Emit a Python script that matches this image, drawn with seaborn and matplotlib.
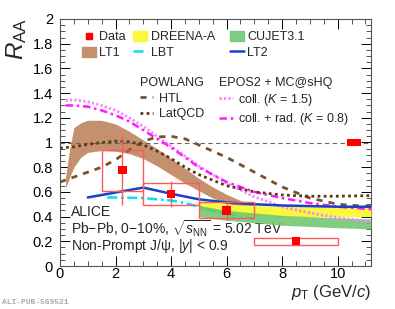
import numpy as np
import matplotlib
matplotlib.use("Agg")
import matplotlib.pyplot as plt
import seaborn as sns
from matplotlib.patches import Rectangle, Patch
from matplotlib.lines import Line2D
from matplotlib.ticker import MultipleLocator, FormatStrFormatter

# -----------------------------
# DATA (ALICE non-prompt J/psi, 0-10%)
# -----------------------------
pt = [2.25, 4.0, 6.0, 8.5]
pt_lo = [1.5, 3.0, 5.0, 7.0]
pt_hi = [3.0, 5.0, 7.0, 10.0]
raa = [0.775, 0.585, 0.45, 0.20]
raa_stat = [0.28, 0.105, 0.08, 0.03]
raa_syst = [0.165, 0.09, 0.065, 0.028]
norm_unc = 0.025

# -----------------------------
# MODELS
# -----------------------------
lt1_x = [0.2, 0.35, 0.5, 0.75, 1.0, 1.5, 2.0, 2.5, 3.0, 3.5, 4.0, 4.5, 5.0, 5.5, 6.0, 6.5, 7.0]
lt1_hi = [0.72, 0.95, 1.12, 1.16, 1.18, 1.18, 1.15, 1.09, 1.02, 0.95, 0.87, 0.79, 0.71, 0.64, 0.58, 0.53, 0.49]
lt1_lo = [0.63, 0.72, 0.80, 0.88, 0.92, 0.935, 0.93, 0.91, 0.87, 0.81, 0.74, 0.67, 0.61, 0.55, 0.51, 0.47, 0.44]

dreena_x = [5.0, 6.0, 7.0, 8.0, 9.0, 10.0, 11.2]
dreena_hi = [0.53, 0.50, 0.49, 0.48, 0.48, 0.48, 0.48]
dreena_lo = [0.45, 0.42, 0.41, 0.40, 0.40, 0.40, 0.40]

cujet_x = [5.0, 6.0, 7.0, 8.0, 9.0, 10.0, 11.2]
cujet_hi = [0.49, 0.45, 0.43, 0.41, 0.40, 0.39, 0.38]
cujet_lo = [0.40, 0.37, 0.35, 0.33, 0.32, 0.31, 0.30]

lt2_x = [1.0, 2.0, 3.0, 4.0, 5.0, 6.0, 7.0, 8.0, 9.0, 10.0, 11.2]
lt2_y = [0.555, 0.595, 0.635, 0.585, 0.54, 0.515, 0.50, 0.49, 0.485, 0.48, 0.48]

lbt_x = [1.7, 2.0, 3.0, 4.0, 4.5, 5.0, 5.5, 6.0, 7.0]
lbt_y = [0.555, 0.555, 0.55, 0.53, 0.51, 0.48, 0.45, 0.42, 0.38]

pow_x = [0, 0.5, 1, 1.5, 2, 2.5, 3, 3.5, 4, 4.5, 5, 6, 7, 8, 9, 10, 11.2]
htl_y = [0.68, 0.72, 0.76, 0.80, 0.86, 0.94, 1.01, 1.045, 1.05, 1.03, 0.98, 0.88, 0.76, 0.64, 0.55, 0.50, 0.48]
latqcd_y = [0.955, 0.965, 0.985, 1.0, 1.01, 1.005, 0.98, 0.93, 0.87, 0.80, 0.74, 0.65, 0.60, 0.575, 0.565, 0.565, 0.57]

epos_x = [0.2, 0.5, 1, 1.5, 2, 2.5, 3, 3.5, 4, 4.5, 5, 6, 7, 8, 9, 10, 11.2]
coll_y = [1.34, 1.345, 1.33, 1.30, 1.26, 1.20, 1.13, 1.05, 0.97, 0.89, 0.81, 0.67, 0.56, 0.48, 0.43, 0.39, 0.36]
collrad_y = [1.30, 1.30, 1.29, 1.26, 1.22, 1.17, 1.10, 1.03, 0.96, 0.88, 0.80, 0.68, 0.60, 0.55, 0.51, 0.48, 0.46]

# -----------------------------
# STYLE
# -----------------------------
sns.set_theme(style="ticks")
plt.rcParams["font.family"] = ["Liberation Sans", "DejaVu Sans"]
plt.rcParams["mathtext.fontset"] = "custom"
plt.rcParams["mathtext.rm"] = "Liberation Sans"
plt.rcParams["mathtext.it"] = "Liberation Sans:italic"
plt.rcParams["mathtext.bf"] = "Liberation Sans:bold"

c_lt1 = "#c4906e"
c_dreena = "#f8f83c"
c_cujet = "#6cc46c"
c_lt2 = "#1a3fcc"
c_lbt = "#00e0f0"
c_htl = "#7a5128"
c_lat = "#5a3812"
c_coll = "#ff80ff"
c_collrad = "#ff1aff"
c_data = "#ff0000"
c_box = "#ff5a5a"

ls_lbt = (0, (4, 1.5, 1, 1.5))
ls_coll = (0, (0.8, 0.8))
ls_collrad = (0, (3, 1.5, 1, 1.5))
ls_htl = (0, (2.2, 2.2))
ls_lat = (0, (1, 1.2))

fig = plt.figure(figsize=(3.95, 3.09), dpi=100)
ax = fig.add_axes([60 / 395, 1 - 266 / 309, 311 / 395, 247 / 309])

# -----------------------------
# BANDS
# -----------------------------
ax.fill_between(lt1_x, lt1_lo, lt1_hi, color=c_lt1, lw=0, zorder=1)
ax.fill_between(dreena_x, dreena_lo, dreena_hi, color=c_dreena, lw=0, zorder=3)
ax.fill_between(cujet_x, cujet_lo, cujet_hi, color=c_cujet, alpha=0.85, lw=0, zorder=4)

ax.axhline(1, color="#666666", ls=(0, (4, 3)), lw=0.8, zorder=1.5)

# -----------------------------
# LINES
# -----------------------------
sns.lineplot(x=lbt_x, y=lbt_y, ax=ax, color=c_lbt, lw=1.8, linestyle=ls_lbt, zorder=3.5)
sns.lineplot(x=epos_x, y=coll_y, ax=ax, color=c_coll, lw=2.0, linestyle=ls_coll, zorder=5)
sns.lineplot(x=epos_x, y=collrad_y, ax=ax, color=c_collrad, lw=1.8, linestyle=ls_collrad, zorder=5)
sns.lineplot(x=pow_x, y=htl_y, ax=ax, color=c_htl, lw=2.0, linestyle=ls_htl, zorder=5)
sns.lineplot(x=pow_x, y=latqcd_y, ax=ax, color=c_lat, lw=2.0, linestyle=ls_lat, zorder=5)
sns.lineplot(x=lt2_x, y=lt2_y, ax=ax, color=c_lt2, lw=1.8, zorder=6)

# -----------------------------
# DATA POINTS
# -----------------------------
for lo, hi, y, s in zip(pt_lo, pt_hi, raa, raa_syst):
    ax.add_patch(Rectangle((lo, y - s), hi - lo, 2 * s, fill=False, ec=c_box, lw=1.0, zorder=8))
ax.errorbar(pt, raa, yerr=raa_stat, fmt="none", ecolor=c_box, elinewidth=1.0, capsize=0, zorder=8)
sns.scatterplot(x=pt, y=raa, ax=ax, marker="s", color=c_data, s=36, edgecolor="none", zorder=10)
ax.add_patch(Rectangle((10.35, 1 - norm_unc), 0.5, 2 * norm_unc, color=c_data, lw=0, zorder=10))

# -----------------------------
# AXES
# -----------------------------
ax.set_xlim(0, 11.2)
ax.set_ylim(0, 2)
ax.xaxis.set_major_locator(MultipleLocator(2))
ax.xaxis.set_minor_locator(MultipleLocator(0.5))
ax.yaxis.set_major_locator(MultipleLocator(0.2))
ax.yaxis.set_minor_locator(MultipleLocator(0.05))
ax.yaxis.set_major_formatter(FormatStrFormatter("%g"))
ax.tick_params(which="both", direction="in", top=True, right=True, color="#555555", width=0.7)
ax.tick_params(which="major", length=7, labelsize=10.5, colors="#000000")
ax.tick_params(which="minor", length=3.5)
ax.tick_params(axis="x", pad=1)
ax.tick_params(axis="y", pad=5)
for s in ax.spines.values():
    s.set_color("#555555")
    s.set_linewidth(0.8)

ax.set_xlabel(r"$p_{\rm T}$ (GeV/$c$)", loc="right", fontsize=12, labelpad=1)
fig.text(17 / 395, 1 - 18 / 309, r"$R_{\rm AA}$", rotation=90, ha="center", va="top", fontsize=17.5)

# -----------------------------
# TEXT
# -----------------------------
ax.text(0.4, 0.405, "ALICE", fontsize=10, va="baseline")
ax.text(0.4, 0.26, r"Pb$-$Pb, 0$-$10%, $\sqrt{s_{\rm NN}}$ = 5.02 TeV", fontsize=10, va="baseline")
ax.text(0.4, 0.13, r"Non-Prompt J/ψ, |$y$| < 0.9", fontsize=10, va="baseline")
fig.text(2 / 395, 1 - 302 / 309, "ALI-PUB-569521", fontsize=5.8, color="#aaaaaa",
         family="Liberation Mono", weight="bold", va="center")

# -----------------------------
# LEGENDS
# -----------------------------
leg_kw = dict(loc="upper left", bbox_transform=fig.transFigure, frameon=False, fontsize=9,
              borderpad=0, borderaxespad=0, handlelength=1.1, handleheight=0.9,
              handletextpad=0.3, labelspacing=0.25)

h_data = Line2D([], [], marker="s", color=c_data, ls="none", markersize=5)
h_lt1 = Patch(color=c_lt1)
h_dreena = Patch(color=c_dreena)
h_lbt = Line2D([], [], color=c_lbt, lw=1.8, ls=ls_lbt)
h_cujet = Patch(color=c_cujet, alpha=0.85)
h_lt2 = Line2D([], [], color=c_lt2, lw=1.8)

col_x = [82, 133, 230]
col_handles = [[h_data, h_lt1], [h_dreena, h_lbt], [h_cujet, h_lt2]]
col_labels = [["Data", "LT1"], ["DREENA-A", "LBT"], ["CUJET3.1", "LT2"]]
for cx, hs, ls in zip(col_x, col_handles, col_labels):
    leg = ax.legend(hs, ls, bbox_to_anchor=(cx / 395, 1 - 31 / 309), **leg_kw)
    ax.add_artist(leg)

h_htl = Line2D([], [], color=c_htl, lw=2.0, ls=ls_htl)
h_lat = Line2D([], [], color=c_lat, lw=2.0, ls=ls_lat)
leg2 = ax.legend([h_htl, h_lat], ["HTL", "LatQCD"], title="POWLANG", alignment="left",
                 title_fontsize=9, **dict(leg_kw, handlelength=1.0, handletextpad=0.5,
                                          bbox_to_anchor=(140 / 395, 1 - 77 / 309)))
ax.add_artist(leg2)

h_coll = Line2D([], [], color=c_coll, lw=2.0, ls=ls_coll)
h_collrad = Line2D([], [], color=c_collrad, lw=1.8, ls=ls_collrad)
ax.legend([h_coll, h_collrad], [r"coll. ($K$ = 1.5)", r"coll. + rad. ($K$ = 0.8)"],
          title="EPOS2 + MC@sHQ", alignment="left", title_fontsize=9,
          **dict(leg_kw, handlelength=1.1, handletextpad=0.4,
                 bbox_to_anchor=(219 / 395, 1 - 77 / 309)))

fig.savefig("out.png", dpi=100)
